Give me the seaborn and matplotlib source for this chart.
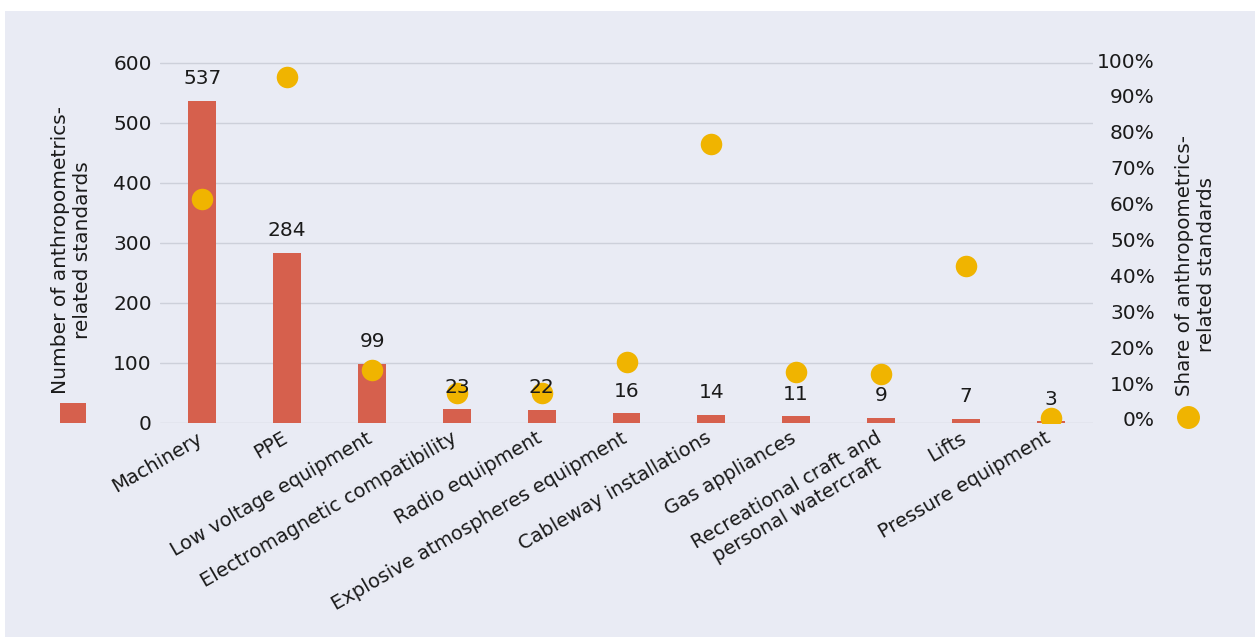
import matplotlib
matplotlib.use("Agg")
import matplotlib.pyplot as plt
from matplotlib.patches import Rectangle
from matplotlib.lines import Line2D
from matplotlib.ticker import PercentFormatter
from matplotlib.transforms import ScaledTranslation
import seaborn as sns
import numpy as np

categories = ["Machinery", "PPE", "Low voltage equipment", "Electromagnetic compatibility",
              "Radio equipment", "Explosive atmospheres equipment", "Cableway installations",
              "Gas appliances", "Recreational craft and\npersonal watercraft", "Lifts",
              "Pressure equipment"]
counts = [537, 284, 99, 23, 22, 16, 14, 11, 9, 7, 3]
shares = [0.612, 0.953, 0.136, 0.072, 0.072, 0.159, 0.766, 0.131, 0.125, 0.426, 0.003]
left_ticks = [0, 100, 200, 300, 400, 500, 600]
right_ticks = [0, 0.1, 0.2, 0.3, 0.4, 0.5, 0.6, 0.7, 0.8, 0.9, 1.0]

BG = "#E9EBF4"
BAR = "#D6604D"
DOT = "#F0B400"
GRID = "#CDD0DA"
TXT = "#1a1a1a"

sns.set_theme(style="white")
plt.rcParams['font.family'] = ['DejaVu Sans']

W, H = 1255, 639
fig = plt.figure(figsize=(W / 100, H / 100), dpi=100, facecolor="white")
fig.patches.append(Rectangle((5 / W, 2 / H), 1, (637 - 11) / H, transform=fig.transFigure,
                             facecolor=BG, edgecolor="none", zorder=-10))

ax = fig.add_axes([160 / W, (H - 423) / H, (1093 - 160) / W, (423 - 60) / H])
ax.set_facecolor(BG)
sns.barplot(x=categories, y=counts, ax=ax, color=BAR, width=0.33, saturation=1,
            linewidth=0, edgecolor="none")
ax.set_ylim(0, 605)
ax.set_yticks(left_ticks)
ax.grid(axis="y", color=GRID, linewidth=1)
ax.set_axisbelow(True)
for s in ax.spines.values():
    s.set_visible(False)
ax.tick_params(axis="y", length=0, pad=6, labelsize=14.5, labelcolor=TXT)
ax.set_ylabel("")
ax.set_xlabel("")

ax2 = ax.twinx()
sns.stripplot(x=categories, y=shares, ax=ax2, jitter=False, size=15.5, color=DOT,
              linewidth=0, zorder=3)
ax2.set_ylim(-4 / 359, 1.0)
ax2.set_yticks(right_ticks)
ax2.yaxis.set_major_formatter(PercentFormatter(1.0, decimals=0))
for s in ax2.spines.values():
    s.set_visible(False)
ax2.tick_params(axis="y", length=0, pad=44.5, labelsize=14.5, labelcolor=TXT)
for lab in ax2.get_yticklabels():
    lab.set_horizontalalignment("right")
ax2.set_ylabel("")
ax2.set_xlabel("")
ax2.grid(False)

ax.set_xlim(-0.5, len(categories) - 0.5)
ax.set_xticks(range(len(categories)))
ax.set_xticklabels(categories, rotation=30, ha="right", va="top", rotation_mode="anchor",
                   fontsize=14, color=TXT, multialignment="center")
ax.tick_params(axis="x", length=0, pad=4)
shift = ScaledTranslation(-6 / 100, 0, fig.dpi_scale_trans)
for lab in ax.get_xticklabels():
    lab.set_transform(lab.get_transform() + shift)

for i, v in enumerate(counts):
    ax2.annotate(str(v), xy=(i, v), xycoords=ax.transData, xytext=(0, 9),
                 textcoords="offset points", ha="center", va="bottom",
                 fontsize=14.5, color=TXT, zorder=5)

fig.text(71 / W, (H - 250) / H, "Number of anthropometrics-\nrelated standards",
         rotation=90, ha="center", va="center", multialignment="center",
         fontsize=14.5, color=TXT)
fig.patches.append(Rectangle((60 / W, (H - 423) / H), 26 / W, 20 / H, transform=fig.transFigure,
                             facecolor=BAR, edgecolor="none"))
fig.text(1195 / W, (H - 265) / H, "Share of anthropometrics-\nrelated standards",
         rotation=90, ha="center", va="center", multialignment="center",
         fontsize=14.3, color=TXT)
fig.add_artist(Line2D([1188 / W], [(H - 417) / H], marker="o", markersize=15.5,
                      color=DOT, linewidth=0, transform=fig.transFigure))

fig.savefig("out.png", dpi=100, facecolor="white")
